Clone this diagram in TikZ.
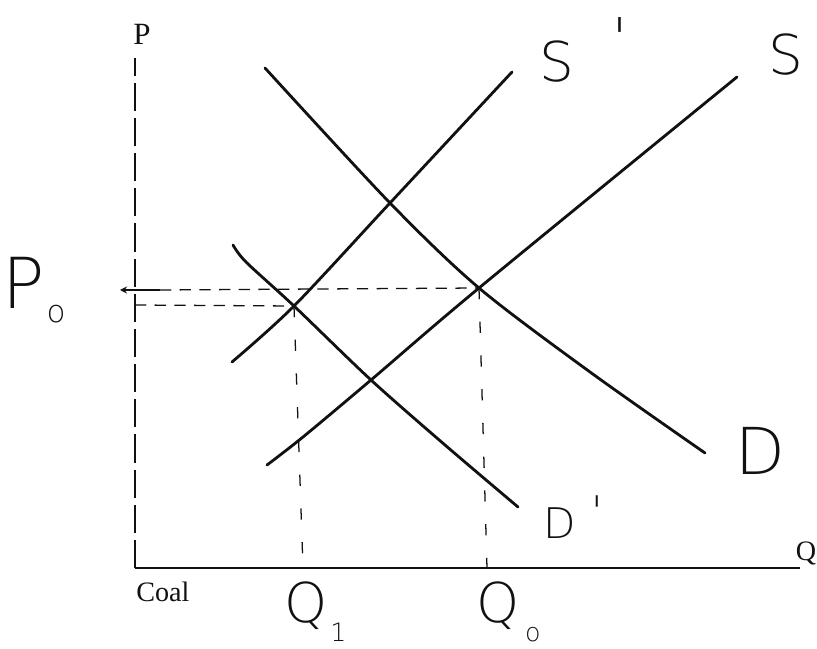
\documentclass[tikz,border=0pt]{standalone}
\usepackage{fontspec}
\setmainfont{Liberation Serif}
\newfontfamily\handfont[UprightFont={* ExtraLight}]{DejaVu Sans}
\usepackage{tikz}
\usetikzlibrary{arrows.meta}
\definecolor{ink}{HTML}{111111}
\tikzset{
  axisline/.style = {draw=ink, line width=1.3pt},
  axisdash/.style = {draw=ink, line width=1.3pt, dash pattern=on 20pt off 5pt},
  curve/.style    = {draw=ink, line width=2pt, line cap=round},
  hguide/.style   = {draw=ink, line width=0.9pt, dash pattern=on 8pt off 6pt},
  vguide/.style   = {draw=ink, line width=0.9pt, dash pattern=on 8pt off 16pt},
  lbl/.style      = {font=\fontsize{22}{22}\selectfont, text=ink, inner sep=0pt},
  hand/.style     = {text=ink, inner sep=0pt},
}

\begin{document}
\begin{tikzpicture}[x=0.025cm, y=-0.025cm]
  \useasboundingbox (0,0) rectangle (817,649);
  % key points
  \coordinate (O)     at (135,568);
  \coordinate (ptop)  at (135,58);
  \coordinate (qend)  at (800,568);
  \coordinate (E0)    at (479,288);  % D x S
  \coordinate (E1)    at (294,306);  % D' x S'
  \coordinate (X1)    at (390,203);  % D x S'
  \coordinate (X2)    at (371,380);  % D' x S
  \coordinate (q0)    at (487,568);
  \coordinate (q1)    at (303,568);
  \coordinate (pax)   at (135,305);
  \coordinate (tickL) at (120,290);
  \coordinate (tickR) at (160,290);

  % axes
  \draw[axisdash] (O) -- (ptop);
  \draw[axisline] (O) -- (qend);
  \node[lbl] (plbl) at (142,34) {P};
  \node[lbl, font=\fontsize{20}{20}\selectfont] (qlbl) at (806,553) {Q};
  \node[lbl, font=\fontsize{20}{20}\selectfont, anchor=north west] (coal) at (136,582) {Coal};

  % curves
  \draw[curve] plot[smooth, tension=0.5] coordinates {(265,68) (X1) (E0) (590,372) (705,453)};
  \draw[curve] plot[smooth, tension=0.5] coordinates {(267,465) (303,437) (X2) (E0) (737,77)};
  \draw[curve] plot[smooth, tension=0.5] coordinates {(232,362) (E1) (X1) (512,72)};
  \draw[curve] plot[smooth, tension=0.5] coordinates {(233,245) (246,262) (E1) (X2) (445,445) (518,507)};

  % price and quantity guides
  \draw[axisline, -{Stealth[length=5pt, width=5pt]}] (tickR) -- (tickL);
  \draw[hguide] (tickR) -- (E0);
  \draw[hguide] (pax) -- (E1);
  \draw[vguide] (E1) -- (q1);
  \draw[vguide] (E0) -- (q0);

  % hand labels
  \node[hand, font=\handfont\fontsize{50}{50}\selectfont] (p0) at (24,290)
    {P\rlap{\hspace{0.02em}\raisebox{-0.2em}{\fontsize{22}{22}\selectfont o}}};
  \node[hand, font=\handfont\fontsize{39}{39}\selectfont] (sprime) at (557,50)
    {S\rlap{\hspace{0.7em}\raisebox{0.45em}{'}}};
  \node[hand, font=\handfont\fontsize{39}{39}\selectfont] (s) at (786,55) {S};
  \node[hand, font=\handfont\fontsize{46}{46}\selectfont] (d) at (760,451) {D};
  \node[hand, font=\handfont\fontsize{30}{30}\selectfont] (dprime) at (560,517)
    {D\rlap{\hspace{0.35em}\raisebox{0.3em}{'}}};
  \node[hand, font=\handfont\fontsize{39}{39}\selectfont] (q1lbl) at (306,612)
    {Q\rlap{\hspace{0.05em}\raisebox{-0.35em}{\fontsize{18}{18}\selectfont 1}}};
  \node[hand, font=\handfont\fontsize{39}{39}\selectfont] (q0lbl) at (498,612)
    {Q\rlap{\hspace{0.1em}\raisebox{-0.35em}{\fontsize{18}{18}\selectfont o}}};
\end{tikzpicture}
\end{document}
